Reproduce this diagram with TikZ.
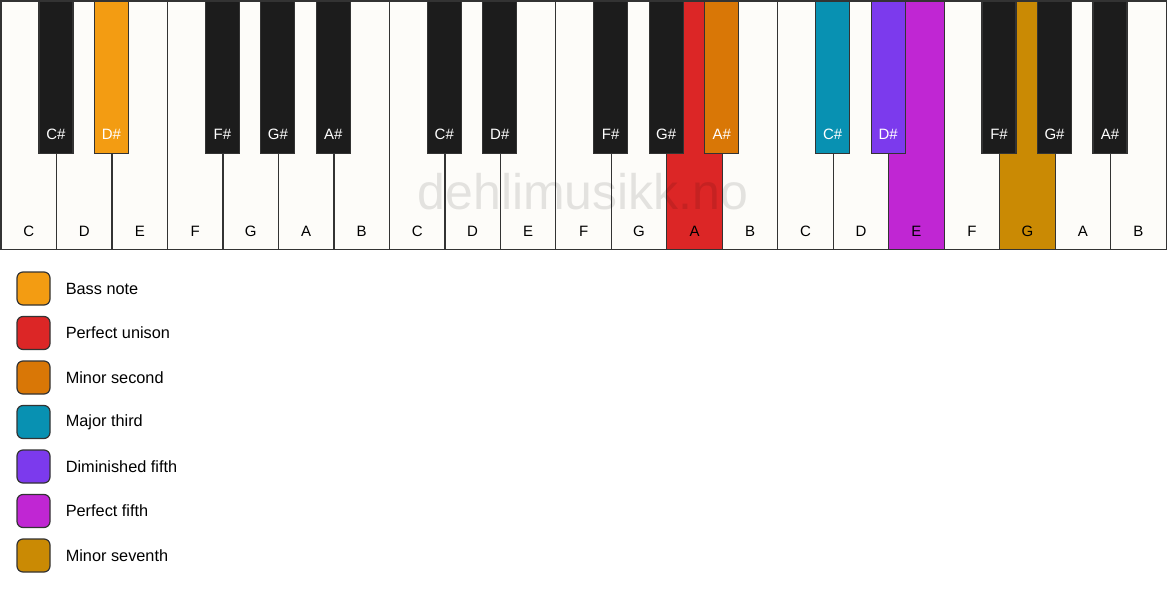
\documentclass[tikz,border=0pt]{standalone}
\usepackage{fontspec}
\setmainfont{Liberation Sans}
\usetikzlibrary{positioning}

\definecolor{keywhite}{HTML}{FDFCF9}
\definecolor{keyblack}{HTML}{1C1C1C}
\definecolor{keyline}{HTML}{333333}
\definecolor{bassnote}{HTML}{F39C12}
\definecolor{unison}{HTML}{DC2626}
\definecolor{minsecond}{HTML}{D97706}
\definecolor{majthird}{HTML}{0891B2}
\definecolor{dimfifth}{HTML}{7C3AED}
\definecolor{perffifth}{HTML}{C026D3}
\definecolor{minseventh}{HTML}{CA8A04}

\tikzset{
  whitekey/.style={draw=keyline, line width=1.2pt, minimum width=55.476pt, minimum height=248.5pt, inner sep=0pt, anchor=north west},
  blackkey/.style={draw=keyline, line width=1.2pt, minimum width=34pt, minimum height=152.5pt, inner sep=0pt, anchor=north},
  whitelabel/.style={font=\fontsize{15}{18}\selectfont, text=black, inner sep=0pt},
  blacklabel/.style={font=\fontsize{15}{18}\selectfont, text=white, inner sep=0pt},
  legendbox/.style={draw=keyline, line width=1.2pt, rounded corners=6pt, minimum size=33pt, inner sep=0pt},
  legendtext/.style={font=\fontsize{16.3}{19}\selectfont, inner sep=0pt, anchor=west}
}

\begin{document}
\begin{tikzpicture}[x=1pt, y=-1pt]

    % Page size of the reference
    \useasboundingbox (0,0) rectangle (1167,594);

    % White keys, three octaves
    \foreach \n/\c [count=\i from 0] in {C/keywhite, D/keywhite, E/keywhite, F/keywhite, G/keywhite, A/keywhite, B/keywhite,
        C/keywhite, D/keywhite, E/keywhite, F/keywhite, G/keywhite, A/unison, B/keywhite,
        C/keywhite, D/keywhite, E/perffifth, F/keywhite, G/minseventh, A/keywhite, B/keywhite} {
      \node[whitekey, fill=\c] (w\i) at ({0.5+\i*55.476}, 0.5) {};
      \node[whitelabel] (wl\i) at ([yshift=19pt]w\i.south) {\n};
    }

    % Watermark
    \node[font=\fontsize{50}{58}\selectfont, text=black, opacity=0.1] (mark) at (583, 192) {dehlimusikk.no};

    % Black keys sit on the borders between white keys
    \foreach \b/\n/\c in {1/C\#/keyblack, 2/D\#/bassnote, 4/F\#/keyblack, 5/G\#/keyblack, 6/A\#/keyblack,
        8/C\#/keyblack, 9/D\#/keyblack, 11/F\#/keyblack, 12/G\#/keyblack, 13/A\#/minsecond,
        15/C\#/majthird, 16/D\#/dimfifth, 18/F\#/keyblack, 19/G\#/keyblack, 20/A\#/keyblack} {
      \node[blackkey, fill=\c] (b\b) at ({0.5+\b*55.476}, 0.5) {};
      \node[blacklabel] (bl\b) at ([yshift=20pt]b\b.south) {\n};
    }

    % Legend
    \foreach \t/\c [count=\k from 0] in {Bass note/bassnote, Perfect unison/unison, Minor second/minsecond,
        Major third/majthird, Diminished fifth/dimfifth, Perfect fifth/perffifth, Minor seventh/minseventh} {
      \node[legendbox, fill=\c] (box\k) at (33.5, {288.5+44.5*\k}) {};
      \node[legendtext, right=15pt of box\k] (txt\k) {\t};
    }

\end{tikzpicture}
\end{document}
